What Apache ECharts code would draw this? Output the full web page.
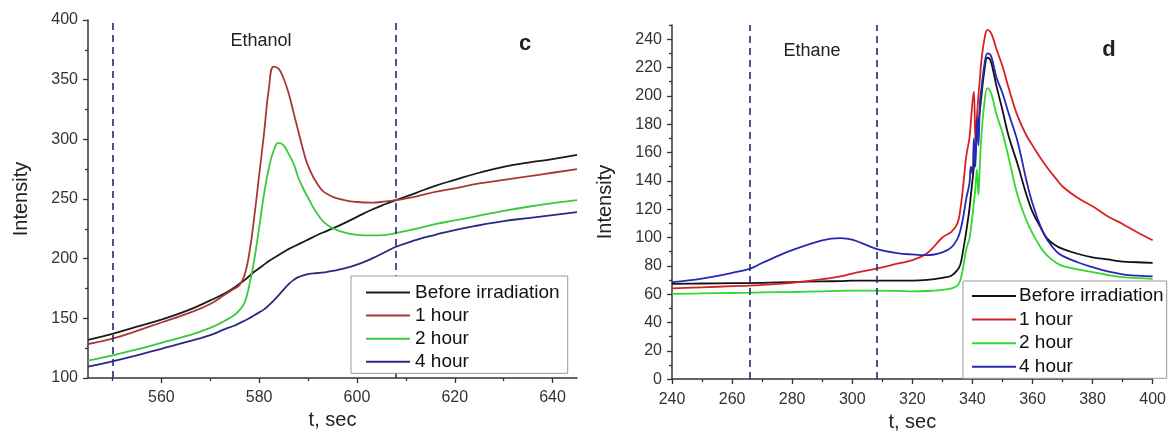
<!DOCTYPE html>
<html>
<head>
<meta charset="utf-8">
<script src="https://cdn.jsdelivr.net/npm/echarts@6/dist/echarts.min.js"></script>
<style>html,body{margin:0;padding:0;background:#fff}#c{width:1169px;height:437px}</style>
</head>
<body>
<div id="c"></div>
<script>
// ---------- Panel c (Ethanol) ----------
const ethanolTime = [545,550,555,560,565,570,573,575,576,577,578,579,580,581,582,583,584,585,586,587,588,589,590,592,594,597,600,603,606,608,612,616,620,625,630,635,640,645];
const ethanolBefore = [132,137,143,149,156,165,171,176,179,182,185.5,189,192,195,198,200.5,203,205.5,208,210,212,214,216,220,223.5,229,235,241,246,249,255,261,266,272,277,280.5,283.5,287];
const ethanol1h = [128.5,133,139.5,146.5,153.5,162,170,175,178,186,205,235,270,305,343,361,359,351,339,323,307,291,278,262,254,249.5,247.5,247,248,249,252,256,259,263,266,269,272,275];
const ethanol2h = [114.5,119,124,129.5,135,142,148,153,157,163,178,199,226,254,276,291,297,295,288,280,268,259,251,237,228,222.5,220,219.5,220,221.5,225,229,232,236,240,243.5,246.5,249];
const ethanol4h = [109.5,114,119,124.5,130,136,141,144,146,148,150,152.5,155,157.5,161,165,169.5,174,178.5,182,184.5,186,187,188,189,191.5,195,200,206,210,215.5,220,224,228,231.5,234,236.5,239];
const ethanolMarks = [550, 608];
const ethanolXLabels = [560,580,600,620,640];
const ethanolXMinor = [550,570,590,610,630];

// ---------- Panel d (Ethane) ----------
const ethaneTime = [240,250,260,266,270,280,290,296,300,308,315,320,325,330,333,335,336,337,338,339,339.5,340,340.5,341,341.5,342,342.5,343,344,345,346,347,348,350,352,355,358,360,363,365,368,370,375,380,385,390,395,400];
const ethaneBefore = [67.3,67.5,67.7,67.8,68,68.5,69,69.2,69.5,69.5,69.5,69.5,70,71.5,73,77,81,92,105,120,130,140,150,160,170,180,190,200,218,227,225,217,207,190,172,152,130,118,106,99,94,92,88.5,86,84.5,83,82.5,82];
const ethane1h = [64,64.8,65.6,66,66.5,68,70.5,72.5,74.5,78,81.5,84,89,100,104,110,120,138,158,170,182,195,203,168,185,200,212,225,240,246.5,245,240,233,221,206,186,172,165,155,149,141,136,128,122,115,109.5,103.5,98];
const ethane2h = [60.2,60.5,60.8,61,61.2,61.5,62,62.3,62.5,62.5,62.3,62,62.2,63,64,66,70,80,92,99,106,115,125,135,148,130,152,172,195,205.5,203,196,187,174,157,130,112,103,92,87,82,80,77.5,75.5,73.5,72,71.3,70.8];
const ethane4h = [68.5,71,75,78,82,91,98,99.6,98.5,92,89,88,87.5,89.5,93,99,105,115,128,138,150,145,170,150,185,165,195,205,222,230,229,222,213,202,188,168,140,124,106,98,90,87,82.5,79,76,74,73,72.5];
const ethaneMarks = [266, 308];
const ethaneYLabels = [0,20,40,60,80,100,120,140,160,180,200,220,240];
const ethaneYMinor = [10,30,50,70,90,110,130,150,170,190,210,230,250];

const seriesNames = ['Before irradiation','1 hour','2 hour','4 hour'];
const colorsC = ['#1a1a1a','#a83838','#3cc83c','#2a2a82'];
const colorsD = ['#111111','#d82222','#30d830','#2828b4'];
const FONT = 'Liberation Sans, Arial, sans-serif';

function pairs(t, v){ return t.map((x,i)=>[x, v[i]]); }

const chart = echarts.init(document.getElementById('c'), null, {renderer:'canvas'});

const tickStyle = {color:'#333', width:1.3};
const axisCommon = {
  axisLine:{show:true, lineStyle:{color:'#333', width:1.5}},
  axisTick:{show:true, length:5, lineStyle:tickStyle},
  axisLabel:{color:'#333', fontSize:16, fontFamily:FONT},
  splitLine:{show:false},
  nameTextStyle:{color:'#222', fontSize:20, fontFamily:FONT}
};

function mkSeries(name, data, color, xi, yi, marks, smooth){
  const s = {
    name, type:'line', xAxisIndex:xi, yAxisIndex:yi, data,
    symbol:'none', smooth:smooth,
    lineStyle:{color, width:1.8}, itemStyle:{color},
    z:3
  };
  if (marks){
    s.markLine = {
      silent:true, symbol:'none', animation:false,
      label:{show:false},
      lineStyle:{color:'#2a2a70', type:[7,5], width:1.6},
      data: marks.map(m=>({xAxis:m}))
    };
  }
  return s;
}

const cData = [ethanolBefore, ethanol1h, ethanol2h, ethanol4h];
const dData = [ethaneBefore, ethane1h, ethane2h, ethane4h];
const series = [];
cData.forEach((v,i)=>series.push(mkSeries(seriesNames[i], pairs(ethanolTime, v), colorsC[i], 0, 0, i===0?ethanolMarks:null, 0.5)));
dData.forEach((v,i)=>series.push(mkSeries(seriesNames[i], pairs(ethaneTime, v), colorsD[i], 2, 1, i===0?ethaneMarks:null, 0.4)));

function legendData(colors){
  return seriesNames.map((n,i)=>({name:n, icon:'rect', itemStyle:{color:colors[i], borderWidth:0}}));
}

const option = {
  animation:false,
  backgroundColor:'#fff',
  grid:[
    {left:88, right:592, top:20, bottom:59},
    {left:672, right:14, top:25, bottom:56}
  ],
  xAxis:[
    Object.assign({}, axisCommon, {
      gridIndex:0, type:'value', min:545, max:645, interval:5,
      name:'t, sec', nameLocation:'middle', nameGap:30,
      axisLabel:Object.assign({}, axisCommon.axisLabel, {customValues:ethanolXLabels, margin:12}),
      axisTick:Object.assign({}, axisCommon.axisTick, {customValues:ethanolXLabels})
    }),
    {
      gridIndex:0, type:'value', min:545, max:645, interval:5, position:'bottom',
      axisLine:{show:false}, axisLabel:{show:false}, splitLine:{show:false},
      axisTick:{show:true, length:3, customValues:ethanolXMinor, lineStyle:tickStyle}
    },
    Object.assign({}, axisCommon, {
      gridIndex:1, type:'value', min:240, max:400, interval:20,
      name:'t, sec', nameLocation:'middle', nameGap:29,
      minorTick:{show:true, splitNumber:2, length:3, lineStyle:tickStyle},
      axisLabel:Object.assign({}, axisCommon.axisLabel, {margin:12})
    })
  ],
  yAxis:[
    Object.assign({}, axisCommon, {
      gridIndex:0, type:'value', min:100, max:400, interval:50,
      name:'Intensity', nameLocation:'middle', nameGap:57,
      minorTick:{show:true, splitNumber:2, length:3, lineStyle:tickStyle},
      axisLabel:Object.assign({}, axisCommon.axisLabel, {margin:10})
    }),
    Object.assign({}, axisCommon, {
      gridIndex:1, type:'value', min:0, max:250, interval:10,
      name:'Intensity', nameLocation:'middle', nameGap:57,
      axisLabel:Object.assign({}, axisCommon.axisLabel, {margin:10, customValues:ethaneYLabels}),
      axisTick:Object.assign({}, axisCommon.axisTick, {customValues:ethaneYLabels}),
      minorTick:{show:false}
    }),
    {
      gridIndex:1, type:'value', min:0, max:250, interval:10, position:'left',
      axisLine:{show:false}, axisLabel:{show:false}, splitLine:{show:false},
      axisTick:{show:true, length:3, customValues:ethaneYMinor, lineStyle:tickStyle}
    }
  ],
  legend:[
    {
      data:legendData(colorsC), orient:'vertical', left:351, top:276,
      itemWidth:44, itemHeight:2, itemGap:4.1, z:20,
      padding:[7,8,2,15], backgroundColor:'#fff',
      borderColor:'#999', borderWidth:1, borderRadius:0,
      textStyle:{color:'#111', fontSize:19, fontFamily:FONT, padding:[0,0,0,0]},
      selectedMode:false
    },
    {
      data:legendData(colorsD), orient:'vertical', left:963, top:281,
      itemWidth:44, itemHeight:2, itemGap:4.6, z:20,
      padding:[5.5,3,2,9], backgroundColor:'#fff',
      borderColor:'#999', borderWidth:1, borderRadius:0,
      textStyle:{color:'#111', fontSize:19, fontFamily:FONT, padding:[0,0,0,-2]},
      selectedMode:false
    }
  ],
  graphic:[
    {type:'text', x:261, y:41, style:{text:'Ethanol', fill:'#222', font:'18px '+FONT, align:'center', verticalAlign:'middle'}},
    {type:'text', x:525, y:44, style:{text:'c', fill:'#222', font:'bold 22px '+FONT, align:'center', verticalAlign:'middle'}},
    {type:'text', x:812, y:51, style:{text:'Ethane', fill:'#222', font:'18px '+FONT, align:'center', verticalAlign:'middle'}},
    {type:'text', x:1109, y:49.5, style:{text:'d', fill:'#222', font:'bold 22px '+FONT, align:'center', verticalAlign:'middle'}}
  ],
  series
};
chart.setOption(option);
</script>
</body>
</html>
